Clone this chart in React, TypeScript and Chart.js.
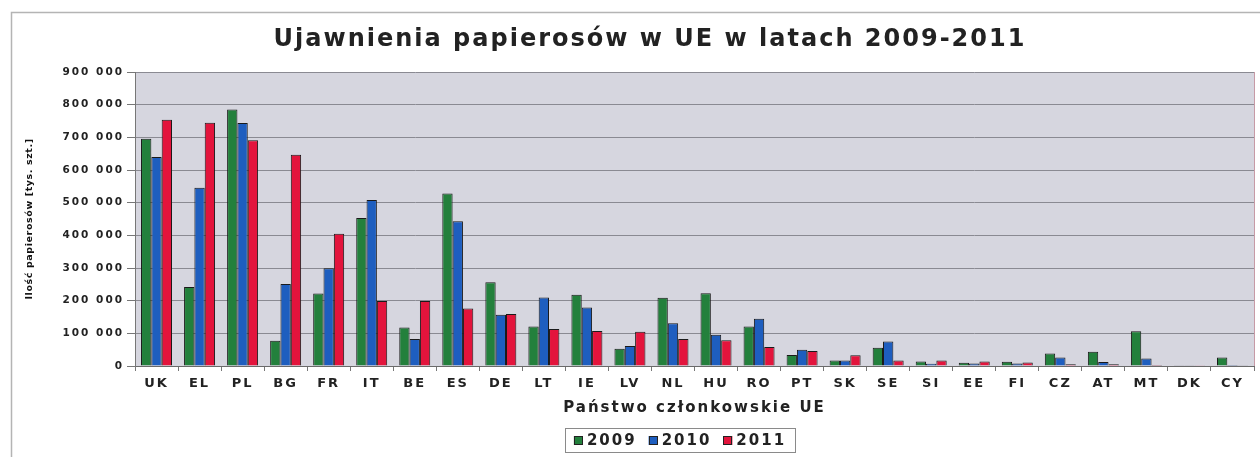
import React, { useEffect, useRef } from 'react';
import { Chart, registerables } from 'chart.js';

Chart.register(...registerables);

const categories = ['UK', 'EL', 'PL', 'BG', 'FR', 'IT', 'BE', 'ES', 'DE', 'LT', 'IE', 'LV', 'NL', 'HU', 'RO', 'PT', 'SK', 'SE', 'SI', 'EE', 'FI', 'CZ', 'AT', 'MT', 'DK', 'CY'];
const values2009 = [696000, 242000, 785000, 77000, 222000, 453000, 118000, 528000, 256000, 121000, 218000, 53000, 209000, 223000, 121000, 34000, 17000, 56000, 14000, 10000, 13000, 38000, 44000, 106000, 1000, 26000];
const values2010 = [640000, 546000, 744000, 251000, 299000, 508000, 83000, 443000, 157000, 210000, 179000, 61000, 131000, 96000, 145000, 50000, 17000, 75000, 7000, 8000, 8000, 26000, 12000, 23000, 1000, 3000];
const values2011 = [754000, 745000, 691000, 647000, 405000, 199000, 199000, 176000, 159000, 113000, 107000, 105000, 83000, 79000, 58000, 46000, 33000, 17000, 17000, 14000, 11000, 5000, 5000, 3000, 500, 1000];
const seriesLabels = ['2009', '2010', '2011'];
const yTickMax = 900000;
const yTickStep = 100000;

const chartTitle = 'Ujawnienia papierosów w UE w latach 2009-2011';
const xTitle = 'Państwo członkowskie UE';
const yTitle = 'Ilość papierosów [tys. szt.]';

const FONT = "'DejaVu Sans', 'Liberation Sans', sans-serif";
const COLORS = ['#23803c', '#1e5ebf', '#e3143c'];

const fmt = (v: number) => String(v).replace(/\B(?=(\d{3})+(?!\d))/g, ' ');

export default function App() {
  const ref = useRef<HTMLCanvasElement | null>(null);

  useEffect(() => {
    const prevMargin = document.body.style.margin;
    document.body.style.margin = '0';
    const canvas = ref.current!;
    const ctx = canvas.getContext('2d')! as any;
    const origFill = ctx.fillText;
    const origMeasure = ctx.measureText;
    const applySpacing = () => {
      const m = /(\d+(?:\.\d+)?)px/.exec(ctx.font);
      const px = m ? parseFloat(m[1]) : 12;
      ctx.letterSpacing = (px < 10 ? 0.6 : 2) + 'px';
    };
    ctx.fillText = function (...a: any[]) {
      applySpacing();
      return origFill.apply(ctx, a);
    };
    ctx.measureText = function (...a: any[]) {
      applySpacing();
      return origMeasure.apply(ctx, a);
    };

    const decor = {
      id: 'decor',
      beforeDraw(chart: any) {
        const c = chart.ctx;
        const { left, top, right, bottom } = chart.chartArea;
        c.save();
        c.fillStyle = '#ffffff';
        c.fillRect(0, 0, chart.width, chart.height);
        c.strokeStyle = '#b4b4b4';
        c.lineWidth = 1.5;
        c.beginPath();
        c.moveTo(11.5, chart.height);
        c.lineTo(11.5, 12.5);
        c.lineTo(chart.width, 12.5);
        c.stroke();
        c.fillStyle = '#d6d6df';
        c.fillRect(left, top, right - left, bottom - top);
        c.restore();
      },
      afterDraw(chart: any) {
        const c = chart.ctx;
        const { top, right, bottom } = chart.chartArea;
        c.save();
        c.strokeStyle = '#c79aa6';
        c.lineWidth = 1;
        c.beginPath();
        c.moveTo(right + 0.5, top);
        c.lineTo(right + 0.5, bottom);
        c.stroke();

        // title
        c.font = `bold 24px ${FONT}`;
        c.fillStyle = '#222222';
        c.textAlign = 'center';
        c.textBaseline = 'middle';
        c.fillText(chartTitle, 650, 40);

        // legend
        c.font = `bold 15px ${FONT}`;
        const sq = 9;
        const gap = 4;
        const itemGap = 12;
        const items = chart.data.datasets.map((d: any) => ({ label: d.label, color: d.backgroundColor }));
        const widths = items.map((it: any) => c.measureText(it.label).width);
        const total = widths.reduce((s: number, w: number) => s + sq + gap + w, 0) + itemGap * (items.length - 1);
        const cx = 680;
        const cy = 440.5;
        const padX = 9;
        const boxL = Math.round(cx - total / 2 - padX) + 0.5;
        const boxR = Math.round(cx + total / 2 + padX) + 0.5;
        c.strokeStyle = '#8a8a8a';
        c.lineWidth = 1;
        c.strokeRect(boxL, 428.5, boxR - boxL, 24);
        let x = cx - total / 2;
        c.textAlign = 'left';
        items.forEach((it: any, i: number) => {
          c.fillStyle = it.color;
          c.fillRect(x, cy - sq / 2, sq, sq);
          c.strokeStyle = '#222';
          c.strokeRect(Math.round(x) + 0.5, Math.round(cy - sq / 2) + 0.5, sq - 1, sq - 1);
          x += sq + gap;
          c.fillStyle = '#222222';
          c.fillText(it.label, x, cy + 1);
          x += widths[i] + itemGap;
        });
        c.restore();
      },
    };

    const seriesValues = [values2009, values2010, values2011];
    const chart = new Chart(canvas, {
      type: 'bar',
      data: {
        labels: categories,
        datasets: seriesLabels.map((label, i) => ({
          label,
          data: seriesValues[i],
          backgroundColor: COLORS[i],
          borderColor: '#1a1a1a',
          borderWidth: 1,
          categoryPercentage: 0.72,
          barPercentage: 1.0,
        })),
      },
      options: {
        responsive: false,
        animation: false,
        devicePixelRatio: 1,
        layout: { padding: { left: 11, right: 6, top: 72, bottom: 0 } },
        plugins: {
          legend: { display: false },
          title: { display: false },
          tooltip: { enabled: false },
        },
        scales: {
          x: {
            grid: { drawOnChartArea: false, drawTicks: true, tickLength: 5, tickColor: '#777777' },
            border: { color: '#6a6a6a' },
            ticks: {
              autoSkip: false,
              maxRotation: 0,
              padding: 5,
              color: '#222222',
              font: { family: FONT, size: 13, weight: 'bold' },
            },
            title: {
              display: true,
              text: xTitle,
              color: '#222222',
              font: { family: FONT, size: 15, weight: 'bold' },
              padding: { top: 0, bottom: 40 },
            },
            afterFit: (s: any) => {
              s.height = 91;
            },
          },
          y: {
            min: 0,
            max: yTickMax,
            ticks: {
              stepSize: yTickStep,
              padding: 3,
              color: '#222222',
              font: { family: FONT, size: 10.5, weight: 'bold' },
              callback: (v: any) => fmt(Number(v)),
            },
            grid: { color: '#8a8a92', tickColor: '#777777', tickLength: 8, drawTicks: true },
            border: { color: '#777777' },
            title: {
              display: true,
              text: yTitle,
              color: '#111111',
              font: { family: FONT, size: 9.5, weight: 'bold' },
              padding: { top: 13, bottom: 0 },
            },
            afterFit: (s: any) => {
              s.width = 124;
            },
          },
        },
      },
      plugins: [decor],
    } as any);

    return () => {
      chart.destroy();
      ctx.fillText = origFill;
      ctx.measureText = origMeasure;
      document.body.style.margin = prevMargin;
    };
  }, []);

  return <canvas ref={ref} width={1260} height={457} style={{ display: 'block', width: 1260, height: 457 }} />;
}
